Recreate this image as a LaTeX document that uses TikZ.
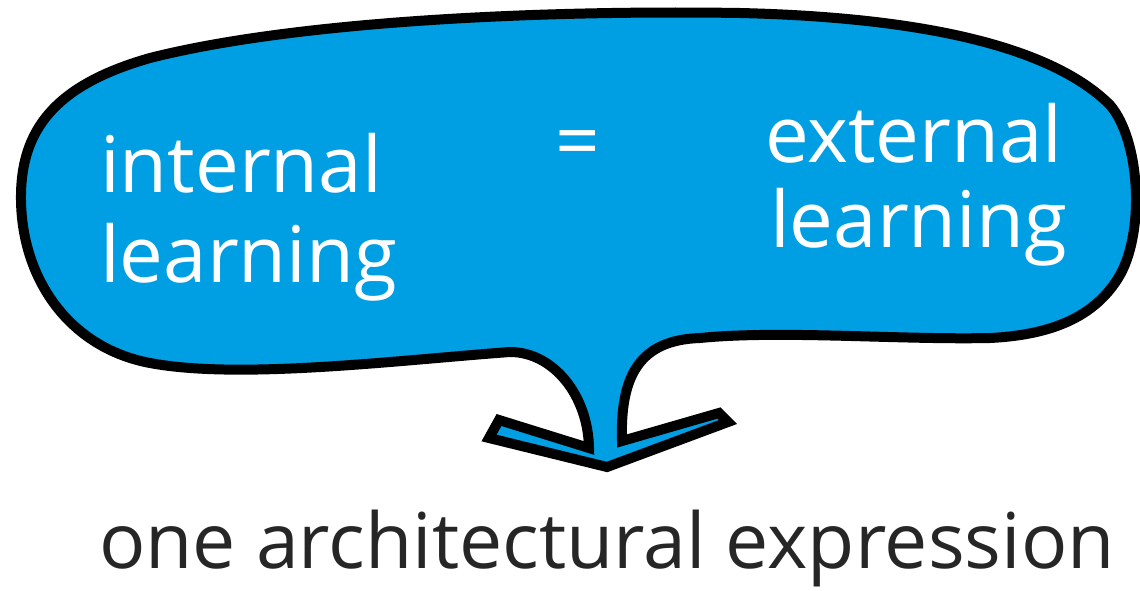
\documentclass[tikz,border=0pt]{standalone}
\usepackage{fontspec}
\setmainfont{Open Sans}
\definecolor{bubble}{RGB}{0,159,227}
\definecolor{ink}{RGB}{38,38,38}
\begin{document}
\begin{tikzpicture}[x=1pt,y=-1pt,
  bubbletext/.style={text=white,font=\fontsize{78}{78}\selectfont,inner sep=0pt,anchor=base west},
  captiontext/.style={text=ink,font=\fontsize{77}{77}\selectfont,inner sep=0pt,anchor=base},
  outline/.style={draw=black,line width=10pt,fill=bubble,line join=miter}]
\useasboundingbox (0,0) rectangle (1140,591);
\path[outline]
  (21,200) .. controls (20,130) and (55,85) .. (150,58)
  .. controls (300,20) and (550,10) .. (740,13)
  .. controls (950,18) and (1060,55) .. (1110,105)
  .. controls (1140,140) and (1145,230) .. (1120,275)
  .. controls (1095,318) and (1050,335) .. (990,338)
  .. controls (900,340) and (780,330) .. (700,338)
  .. controls (640,340) and (620,375) .. (622,441)
  -- (719,413) -- (728,422) -- (607,467) -- (489,438) -- (499,420) -- (589,448)
  .. controls (588,395) and (553,352) .. (510,352)
  .. controls (400,360) and (240,380) .. (150,363)
  .. controls (70,348) and (22,280) .. cycle;
\node[bubbletext] (int1) at (100,192) {internal};
\node[bubbletext] (int2) at (100,282) {learning};
\node[bubbletext,anchor=center] (eq) at (578,150) {=};
\node[bubbletext] (ext1) at (765,162) {external};
\node[bubbletext] (ext2) at (770,247) {learning};
\node[captiontext] (cap) at (607,568) {one architectural expression};
\end{tikzpicture}
\end{document}
